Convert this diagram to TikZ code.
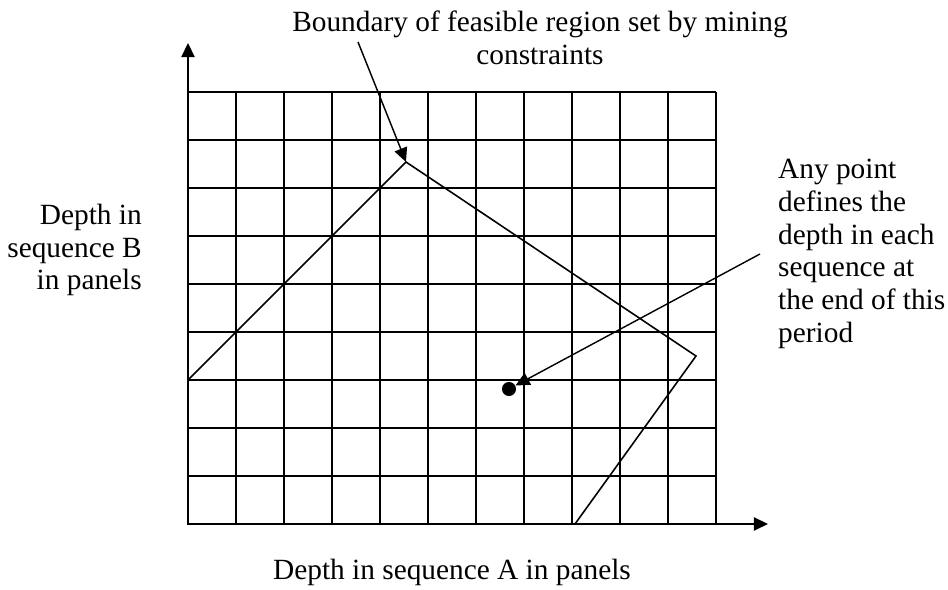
\documentclass[tikz,border=0pt]{standalone}
\usepackage{fontspec}
\setmainfont{Liberation Serif}
\usetikzlibrary{arrows.meta, positioning}

\begin{document}
\begin{tikzpicture}[x=0.02cm, y=-0.02cm,
    every node/.style={font=\fontsize{16.7}{18.6}\selectfont},
    gridline/.style={line width=1pt},
    axis/.style={line width=0.9pt, -{Triangle[length=8pt,width=7.5pt]}},
    tip/.style={line width=0.8pt, -{Triangle[length=8pt,width=7.5pt]}}]
    \useasboundingbox (0,0) rectangle (948,590);

    % panels
    \foreach \i in {0,...,11}
        \draw[gridline] (188+48*\i,92) -- (188+48*\i,524);
    \foreach \j in {0,...,9}
        \draw[gridline] (188,92+48*\j) -- (716,92+48*\j);

    % axes
    \coordinate (o) at (188,524);
    \coordinate (ytip) at (188,43);
    \coordinate (xtip) at (768,524);
    \draw[axis] (o) -- (ytip);
    \draw[axis] (o) -- (xtip);

    % feasible region
    \coordinate (pl) at (188,380);
    \coordinate (ptop) at (406,162);
    \coordinate (pr) at (696,356);
    \coordinate (pb) at (575,524);
    \draw[line width=0.9pt] (pl) -- (ptop) -- (pr) -- (pb) -- (o) -- cycle;

    \node[circle, fill, inner sep=0pt, minimum size=8pt] (dot) at (509,389) {};

    % labels
    \node[align=center] (boundary) at (540,38) {Boundary of feasible region set by mining\\constraints};
    \node[align=right, anchor=east] (ylabel) at (148,250) {Depth in\\sequence B\\in panels};
    \node[align=left, anchor=west] (anypoint) at (772,254) {Any point\\defines the\\depth in each\\sequence at\\the end of this\\period};
    \node (xlabel) at (452,572) {Depth in sequence A in panels};

    \coordinate (bstart) at (358,42);
    \coordinate (astart) at (760,254);
    \draw[tip] (bstart) -- (ptop);
    \draw[tip] (astart) -- (dot);
\end{tikzpicture}
\end{document}
